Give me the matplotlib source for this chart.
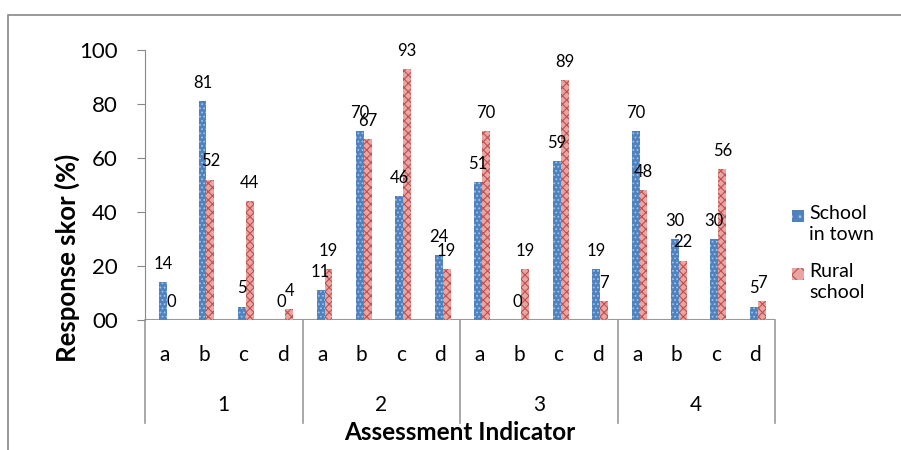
import matplotlib.pyplot as plt
import numpy as np
from matplotlib.patches import Rectangle

plt.rcParams['font.family'] = ['Lato', 'DejaVu Sans']
plt.rcParams['hatch.linewidth'] = 0.8

groups = ['1', '2', '3', '4']
options = ['a', 'b', 'c', 'd']
town = [14, 81, 5, 0, 11, 70, 46, 24, 51, 0, 59, 19, 70, 30, 30, 5]
rural = [0, 52, 44, 4, 19, 67, 93, 19, 70, 19, 89, 7, 48, 22, 56, 7]

fig = plt.figure(figsize=(9.01, 4.5), dpi=100)
ax = fig.add_axes([145 / 901, 130 / 450, 630 / 901, 270 / 450])

x = np.arange(len(town))
w = 0.2
shift = 0.06
ax.bar(x - w / 2 + shift, town, w, color='#4f81bd', edgecolor='#9cc0ec',
       linewidth=0, hatch='....', zorder=3)
ax.bar(x + w / 2 + shift, rural, w, color='#e8a5a3', edgecolor='#c0504d',
       linewidth=0, hatch='xxxx', zorder=3)

# value labels above each bar
for i in range(len(x)):
    ax.annotate(f'{town[i]}', (x[i] - w / 2 + shift, town[i]),
                textcoords='offset points', xytext=(0, 9.5),
                ha='center', va='baseline', fontsize=12, color='black')
    ax.annotate(f'{rural[i]}', (x[i] + w / 2 + shift, rural[i]),
                textcoords='offset points', xytext=(0, 9.5),
                ha='center', va='baseline', fontsize=12, color='black')

ax.set_xlim(-0.5, len(x) - 0.5)
ax.set_ylim(0, 100)
ax.set_yticks([0, 20, 40, 60, 80, 100])
ax.set_yticklabels(['00', '20', '40', '60', '80', '100'], fontsize=16)
ax.tick_params(axis='y', direction='out', length=6, color='#888888', pad=13.5)
ax.set_xticks([])

for s in ['top', 'right', 'bottom']:
    ax.spines[s].set_visible(False)
ax.spines['left'].set_color('#888888')
ax.spines['left'].set_bounds(0, 100)
ax.axhline(0, color='#999999', lw=1.5, zorder=2)

# category axis: option letters, group numbers and separators
gc = '#999999'
trans = ax.get_xaxis_transform()
for g in range(len(groups) + 1):
    xs = g * 4 - 0.5
    ax.plot([xs, xs], [0, -103 / 270], transform=trans, color=gc, lw=1.2, clip_on=False)
for i in range(len(x)):
    ax.text(x[i], -35 / 270, options[i % 4], transform=trans,
            ha='center', va='center', fontsize=15)
for g, name in enumerate(groups):
    ax.text(g * 4 + 1.5, -85 / 270, name, transform=trans,
            ha='center', va='center', fontsize=15)

fig.text(460 / 901, 1 - 433 / 450, 'Assessment Indicator', ha='center', va='center',
         fontsize=17.5, fontweight='bold')
fig.text(67 / 901, 1 - 258 / 450, 'Response skor (%)', ha='center', va='center',
         rotation=90, fontsize=18.5, fontweight='bold')

# legend
fig.patches.append(Rectangle((792 / 901, 1 - 222 / 450), 12 / 901, 12 / 450,
                             transform=fig.transFigure, facecolor='#4f81bd',
                             edgecolor='#9cc0ec', linewidth=0, hatch='..'))
fig.patches.append(Rectangle((792 / 901, 1 - 280 / 450), 12 / 901, 12 / 450,
                             transform=fig.transFigure, facecolor='#e8a5a3',
                             edgecolor='#c0504d', linewidth=0, hatch='xx'))
fig.text(809 / 901, 1 - 205 / 450, 'School\nin town', ha='left', va='top',
         fontsize=14, linespacing=1.3)
fig.text(809 / 901, 1 - 263 / 450, 'Rural\nschool', ha='left', va='top',
         fontsize=14, linespacing=1.3)

# outer chart frame
fig.patches.append(Rectangle((8 / 901, -0.05), 1.0, 1 - 15 / 450 + 0.05,
                             transform=fig.transFigure, fill=False,
                             edgecolor='#888888', linewidth=1.2))

fig.savefig('out.png', dpi=100)
